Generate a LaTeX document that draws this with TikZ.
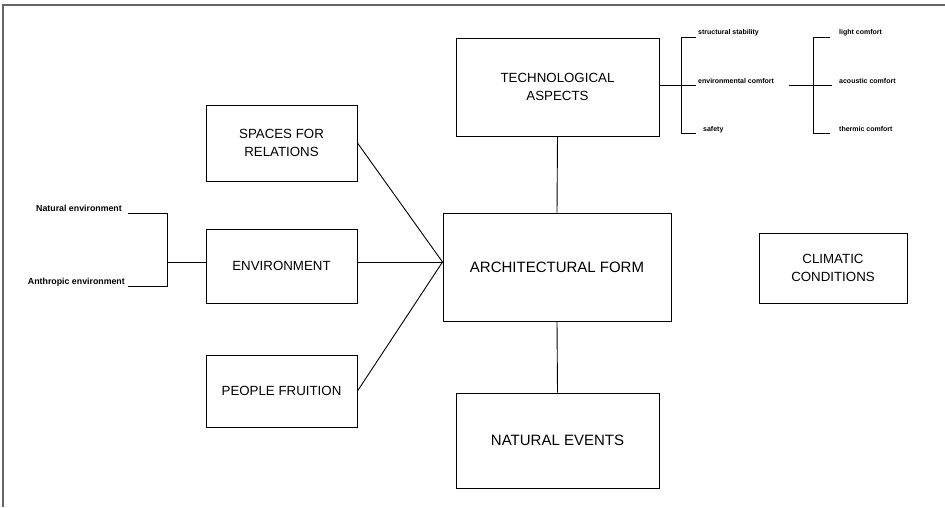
\documentclass[tikz,border=0pt]{standalone}
\usepackage{fontspec}
\setmainfont{Liberation Sans}
\begin{document}
\begin{tikzpicture}[x=1pt,y=-1pt,
  box/.style={draw, line width=1pt, align=center, inner sep=0pt, font=\fontsize{13.3}{18}\selectfont},
  wire/.style={line width=0.9pt},
  tiny/.style={inner sep=0pt, font=\bfseries\fontsize{7}{8}\selectfont},
  small/.style={inner sep=0pt, font=\bfseries\fontsize{8.8}{10}\selectfont},
  frame/.style={draw=black!60, line width=1.2pt}]
\useasboundingbox (0,0) rectangle (945,507);
\draw[frame] (3,507) -- (3,5) -- (945,5);

\node[box, minimum width=203, minimum height=98] (tech) at (557.5,87) {TECHNOLOGICAL\\ASPECTS};
\node[box, minimum width=151, minimum height=76] (spaces) at (281.5,143) {SPACES FOR\\RELATIONS};
\node[box, minimum width=151, minimum height=74] (env) at (281.5,266) {ENVIRONMENT};
\node[box, minimum width=151, minimum height=72] (people) at (281.5,391) {PEOPLE FRUITION};
\node[box, minimum width=228, minimum height=108, font=\fontsize{15}{18}\selectfont] (arch) at (557,267) {ARCHITECTURAL FORM};
\node[box, minimum width=203, minimum height=95, font=\fontsize{15}{18}\selectfont] (nat) at (557.5,440.5) {NATURAL EVENTS};
\node[box, minimum width=148, minimum height=70] (clim) at (833,268) {CLIMATIC\\CONDITIONS};

\coordinate (lm) at (167,262);
\draw[wire] (spaces.east) -- (arch.west |- lm);
\draw[wire] (env.east |- lm) -- (arch.west |- lm);
\draw[wire] (people.east) -- (arch.west |- lm);
\draw[wire] (tech.south) -- (arch.north);
\draw[wire] (arch.south) -- (nat.north);

% bracket 1 (technological aspects)
\coordinate (b1) at (681,85);
\coordinate (b1t) at (681,37);
\coordinate (b1b) at (681,133);
\coordinate (b1r) at (696,85);
\coordinate (b1tr) at (696,37);
\coordinate (b1br) at (696,133);
\draw[wire] (tech.east |- b1) -- (b1r);
\draw[wire] (b1tr) -- (b1t) -- (b1b) -- (b1br);
\node[tiny, anchor=base west] (ss) at (698,34) {structural stability};
\node[tiny, anchor=base west] (ec) at (698,83) {environmental comfort};
\node[tiny, anchor=base west] (sf) at (703,131) {safety};

% bracket 2 (comfort)
\coordinate (b2l) at (789,85);
\coordinate (b2r) at (832,85);
\coordinate (b2tr) at (830,37);
\coordinate (b2t) at (813,37);
\coordinate (b2b) at (813,133);
\coordinate (b2br) at (830,133);
\draw[wire] (b2l) -- (b2r);
\draw[wire] (b2tr) -- (b2t) -- (b2b) -- (b2br);
\node[tiny, anchor=base west] (lc) at (839,34) {light comfort};
\node[tiny, anchor=base west] (ac) at (839,83) {acoustic comfort};
\node[tiny, anchor=base west] (tc) at (839,131) {thermic comfort};

% left bracket (environment)
\coordinate (l1) at (128,213);
\coordinate (l1r) at (167,213);
\coordinate (l2) at (128,286);
\coordinate (l2r) at (167,286);
\draw[wire] (l1) -- (l1r) -- (l2r) -- (l2);
\draw[wire] (lm) -- (env.west |- lm);
\node[small, anchor=base east] (ne) at (122,211) {Natural environment};
\node[small, anchor=base east] (ae) at (125,284) {Anthropic environment};
\end{tikzpicture}
\end{document}
